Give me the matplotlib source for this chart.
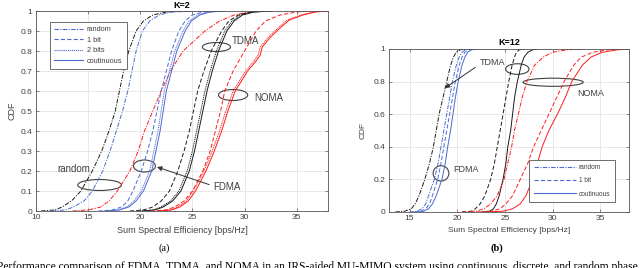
import matplotlib
matplotlib.use("Agg")
import matplotlib.pyplot as plt
from matplotlib.patches import Ellipse
from matplotlib.lines import Line2D

plt.rcParams['font.family'] = ['Liberation Sans', 'DejaVu Sans']
plt.rcParams['lines.scale_dashes'] = False

# CDF levels shared by most curves
levels = [0, 0.005, 0.02, 0.05, 0.1, 0.2, 0.3, 0.4, 0.5, 0.6, 0.7, 0.8, 0.9, 0.95, 0.98, 0.995, 1]
# NOMA curves in K=2 have a shoulder near 0.8
levels_bump = [0, 0.005, 0.02, 0.05, 0.1, 0.2, 0.3, 0.4, 0.5, 0.6, 0.7, 0.75, 0.78, 0.82, 0.87, 0.92, 0.955, 0.98, 0.995, 1]

# (a) K=2, sum spectral efficiency at each CDF level
k2_tdma_random = [10.5, 11.8, 12.5, 13.4, 14.3, 15.4, 16.3, 17.0, 17.6, 18.0, 18.4, 18.9, 19.6, 20.3, 21.2, 22.5, 24.5]
k2_fdma_random = [11.5, 12.8, 13.6, 14.6, 15.4, 16.4, 17.1, 17.7, 18.3, 18.8, 19.2, 19.6, 20.2, 20.9, 21.8, 23.0, 25.5]
k2_noma_random = [13.5, 15.0, 16.2, 17.0, 17.8, 19.0, 19.8, 20.4, 21.2, 22.0, 22.9, 24.1, 26.2, 27.6, 29.0, 30.5, 32.5]
k2_fdma_1bit = [16.0, 17.3, 18.2, 18.8, 19.3, 20.1, 20.7, 21.2, 21.6, 22.0, 22.5, 23.0, 23.7, 24.3, 25.0, 26.0, 27.5]
k2_fdma_2bit = [16.5, 17.8, 18.7, 19.4, 20.1, 20.9, 21.3, 21.7, 22.0, 22.3, 22.8, 23.3, 24.1, 24.7, 25.5, 26.5, 28.0]
k2_fdma_cont = [16.7, 18.0, 18.9, 19.6, 20.3, 21.1, 21.5, 21.9, 22.2, 22.5, 23.0, 23.5, 24.3, 24.9, 25.7, 26.7, 28.2]
k2_tdma_1bit = [19.0, 20.3, 21.2, 22.0, 22.8, 23.6, 24.2, 24.7, 25.1, 25.5, 26.1, 26.8, 27.8, 28.5, 29.4, 30.5, 32.0]
k2_tdma_2bit = [20.0, 21.2, 22.0, 22.9, 23.7, 24.5, 25.0, 25.4, 25.8, 26.2, 26.7, 27.3, 28.1, 28.8, 29.6, 30.7, 32.5]
k2_tdma_cont = [20.2, 21.4, 22.2, 23.1, 23.9, 24.7, 25.2, 25.6, 26.0, 26.4, 26.9, 27.5, 28.3, 29.0, 29.8, 30.9, 32.7]
k2_noma_1bit = [21.0, 22.4, 23.3, 24.2, 25.0, 26.0, 26.7, 27.2, 27.7, 28.1, 28.9, 30.0, 31.1, 32.0, 33.4, 35.0, 36.5]
k2_noma_2bit = [21.6, 22.8, 23.6, 24.4, 25.1, 26.1, 26.9, 27.6, 28.2, 28.9, 30.1, 30.9, 31.3, 31.5, 32.3, 33.3, 34.1, 35.4, 36.6, 37.8]
k2_noma_cont = [21.8, 23.0, 23.8, 24.6, 25.3, 26.3, 27.1, 27.8, 28.4, 29.1, 30.3, 31.1, 31.5, 31.7, 32.5, 33.5, 34.3, 35.6, 36.8, 38.0]

# (b) K=12
k12_tdma_random = [13.5, 14.5, 15.2, 15.6, 16.0, 16.6, 17.1, 17.5, 17.8, 18.1, 18.5, 18.9, 19.3, 19.6, 19.9, 20.3, 21.0]
k12_fdma_random = [15.0, 15.8, 16.3, 16.7, 17.0, 17.6, 18.0, 18.3, 18.6, 18.9, 19.2, 19.5, 19.9, 20.2, 20.5, 20.9, 21.5]
k12_fdma_1bit = [15.5, 16.2, 16.7, 17.1, 17.4, 17.95, 18.3, 18.6, 18.9, 19.2, 19.5, 19.8, 20.2, 20.5, 20.8, 21.2, 21.8]
k12_fdma_cont = [15.8, 16.5, 17.0, 17.4, 17.8, 18.4, 18.75, 19.0, 19.3, 19.55, 19.8, 20.1, 20.5, 20.8, 21.1, 21.5, 22.0]
k12_tdma_1bit = [20.5, 21.5, 21.9, 22.4, 22.9, 23.5, 23.9, 24.2, 24.5, 24.8, 25.1, 25.4, 25.75, 26.0, 26.2, 26.5, 27.0]
k12_tdma_cont = [22.5, 23.4, 23.8, 24.1, 24.4, 24.8, 25.1, 25.3, 25.6, 25.8, 26.0, 26.3, 26.7, 27.0, 27.4, 27.9, 28.5]
k12_noma_random = [20.5, 22.0, 22.8, 23.5, 24.2, 24.9, 25.3, 25.7, 26.0, 26.4, 26.8, 27.3, 28.1, 29.0, 30.0, 31.5, 33.5]
k12_noma_1bit = [22.0, 23.6, 24.5, 25.1, 25.8, 26.6, 27.4, 28.0, 28.8, 29.6, 30.4, 31.2, 32.2, 33.0, 34.2, 35.8, 37.5]
k12_noma_cont = [23.0, 24.8, 25.8, 26.6, 27.2, 27.9, 28.4, 28.9, 29.6, 30.5, 31.3, 32.0, 33.1, 34.0, 35.2, 36.8, 38.0]

blue = '#4a6ad2'
red = '#ff1a1a'
black = '#1a1a1a'
dash = {'random': (0, (3.2, 1.0, 0.8, 1.0)), '1bit': (0, (3.0, 1.6)),
        '2bit': (0, (0.8, 0.6)), 'cont': '-'}
lw = 0.7
txtc = '#404040'

fig = plt.figure(figsize=(6.4, 2.68), dpi=100)
ax1 = fig.add_axes([36/640, 57/268, 292/640, 200/268])
ax2 = fig.add_axes([389/640, 56/268, 240/640, 163/268])


def curve(ax, x, y, color, kind):
    ax.plot(x, y, color=color, linestyle=dash[kind], lw=lw)


curve(ax1, k2_tdma_random, levels, black, 'random')
curve(ax1, k2_fdma_random, levels, blue, 'random')
curve(ax1, k2_noma_random, levels, red, 'random')
curve(ax1, k2_fdma_1bit, levels, blue, '1bit')
curve(ax1, k2_fdma_2bit, levels, blue, '2bit')
curve(ax1, k2_fdma_cont, levels, blue, 'cont')
curve(ax1, k2_tdma_1bit, levels, black, '1bit')
curve(ax1, k2_tdma_2bit, levels, black, '2bit')
curve(ax1, k2_tdma_cont, levels, black, 'cont')
curve(ax1, k2_noma_1bit, levels, red, '1bit')
curve(ax1, k2_noma_2bit, levels_bump, red, '2bit')
curve(ax1, k2_noma_cont, levels_bump, red, 'cont')

curve(ax2, k12_tdma_random, levels, black, 'random')
curve(ax2, k12_fdma_random, levels, blue, 'random')
curve(ax2, k12_fdma_1bit, levels, blue, '1bit')
curve(ax2, k12_fdma_cont, levels, blue, 'cont')
curve(ax2, k12_tdma_1bit, levels, black, '1bit')
curve(ax2, k12_tdma_cont, levels, black, 'cont')
curve(ax2, k12_noma_random, levels, red, 'random')
curve(ax2, k12_noma_1bit, levels, red, '1bit')
curve(ax2, k12_noma_cont, levels, red, 'cont')

for ax in (ax1, ax2):
    ax.set_xlim(10 if ax is ax1 else 12.85, 38)
    ax.set_ylim(0, 1)
    ax.grid(True, color='#e4e4e4', lw=0.6)
    ax.set_axisbelow(True)
    ax.tick_params(direction='in', length=2, width=0.5, top=True, right=True,
                   labelsize=6, colors='#555555', labelcolor=txtc, pad=2.5)
    for s in ax.spines.values():
        s.set_color('#555555')
        s.set_linewidth(0.6)

ax1.set_xticks([10, 15, 20, 25, 30, 35])
ax1.set_yticks([0, 0.1, 0.2, 0.3, 0.4, 0.5, 0.6, 0.7, 0.8, 0.9, 1])
ax1.set_yticklabels(['0', '0.1', '0.2', '0.3', '0.4', '0.5', '0.6', '0.7', '0.8', '0.9', '1'])
ax2.set_xticks([15, 20, 25, 30, 35])
ax2.set_yticks([0, 0.2, 0.4, 0.6, 0.8, 1])
ax2.set_yticklabels(['0', '0.2', '0.4', '0.6', '0.8', '1'])

ax1.set_xlabel('Sum Spectral Efficiency [bps/Hz]', fontsize=6.5, color=txtc, labelpad=3)
ax2.set_xlabel('Sum Spectral Efficiency [bps/Hz]', fontsize=6, color=txtc, labelpad=3)
ax1.set_ylabel('CDF', fontsize=6.5, color=txtc, labelpad=3)
ax2.set_ylabel('CDF', fontsize=6, color=txtc, labelpad=5)
ax1.text(0.5, 1.013, 'K=2', transform=ax1.transAxes, fontsize=6.5, fontweight='bold',
         ha='center', va='baseline')
ax2.set_title('K=12', fontsize=6.5, fontweight='bold', pad=3)

handles = [Line2D([], [], color=blue, lw=0.8, linestyle=dash['random']),
           Line2D([], [], color=blue, lw=0.8, linestyle=dash['1bit']),
           Line2D([], [], color=blue, lw=0.8, linestyle=dash['2bit']),
           Line2D([], [], color=blue, lw=0.8, linestyle=dash['cont'])]
leg1 = ax1.legend(handles, ['random', '1 bit', '2 bits', 'coutinuous'], loc='upper left',
                  bbox_to_anchor=(0.035, 0.965), fontsize=5.3, handlelength=3.9,
                  labelspacing=0.45, borderpad=0.6, handletextpad=0.5, fancybox=False,
                  framealpha=1, edgecolor='#555555')
leg1.get_frame().set_linewidth(0.6)
for t in leg1.get_texts():
    t.set_color(txtc)
leg2 = ax2.legend([handles[0], handles[1], handles[3]], ['random', '1 bit', 'coutinuous'],
                  loc='lower right', bbox_to_anchor=(0.955, 0.04), fontsize=4.7, handlelength=6.5,
                  labelspacing=0.95, borderpad=0.7, handletextpad=0.4, fancybox=False,
                  framealpha=1, edgecolor='#555555')
leg2.get_frame().set_linewidth(0.6)
for t in leg2.get_texts():
    t.set_color(txtc)

ell = dict(fill=False, edgecolor='#404040', lw=0.8)
# (a) annotations
ax1.add_patch(Ellipse((16.1, 0.13), 4.2, 0.055, **ell))
ax1.text(13.6, 0.21, 'random', fontsize=7, color=txtc, ha='center', va='center')
ax1.add_patch(Ellipse((20.4, 0.225), 2.1, 0.06, **ell))
ax1.annotate('FDMA', xy=(21.6, 0.22), xytext=(27.0, 0.12), fontsize=7, color=txtc,
             ha='left', va='center',
             arrowprops=dict(arrowstyle='-|>', color='#333333', lw=0.7, mutation_scale=7,
                             shrinkA=1, shrinkB=0, relpos=(0, 0.6)))
ax1.add_patch(Ellipse((27.3, 0.82), 2.7, 0.045, **ell))
ax1.text(30.1, 0.85, 'TDMA', fontsize=7, color=txtc, ha='center', va='center')
ax1.add_patch(Ellipse((28.9, 0.58), 2.8, 0.055, **ell))
ax1.text(32.3, 0.565, 'NOMA', fontsize=7, color=txtc, ha='center', va='center')

# (b) annotations
ax2.add_patch(Ellipse((26.3, 0.877), 2.45, 0.065, **ell))
ax2.annotate('TDMA', xy=(18.7, 0.76), xytext=(23.65, 0.915), fontsize=6.5, color=txtc,
             ha='center', va='center',
             arrowprops=dict(arrowstyle='-|>', color='#333333', lw=0.7, mutation_scale=7,
                             shrinkA=1, shrinkB=0, relpos=(0, 0.3)))
ax2.add_patch(Ellipse((30.05, 0.796), 6.3, 0.05, **ell))
ax2.text(34.0, 0.725, 'NOMA', fontsize=6.5, color=txtc, ha='center', va='center')
ax2.add_patch(Ellipse((18.3, 0.237), 1.65, 0.094, **ell))
ax2.text(20.9, 0.26, 'FDMA', fontsize=6.5, color=txtc, ha='center', va='center')

fig.text(164/640, 1 - 248/268, '(a)', fontsize=7.5, family='Liberation Serif', ha='center', va='center')
fig.text(497/640, 1 - 248/268, '(b)', fontsize=7.5, family='Liberation Serif', ha='center', va='center',
         fontweight='bold')
fig.text(-0.004, 1 - 261/268, 'Performance comparison of FDMA, TDMA, and NOMA in an IRS-aided MU-MIMO '
         'system using continuous, discrete, and random phase shifts',
         fontsize=8.3, family='Liberation Serif', ha='left', va='top')

fig.savefig('out.png', dpi=100)
